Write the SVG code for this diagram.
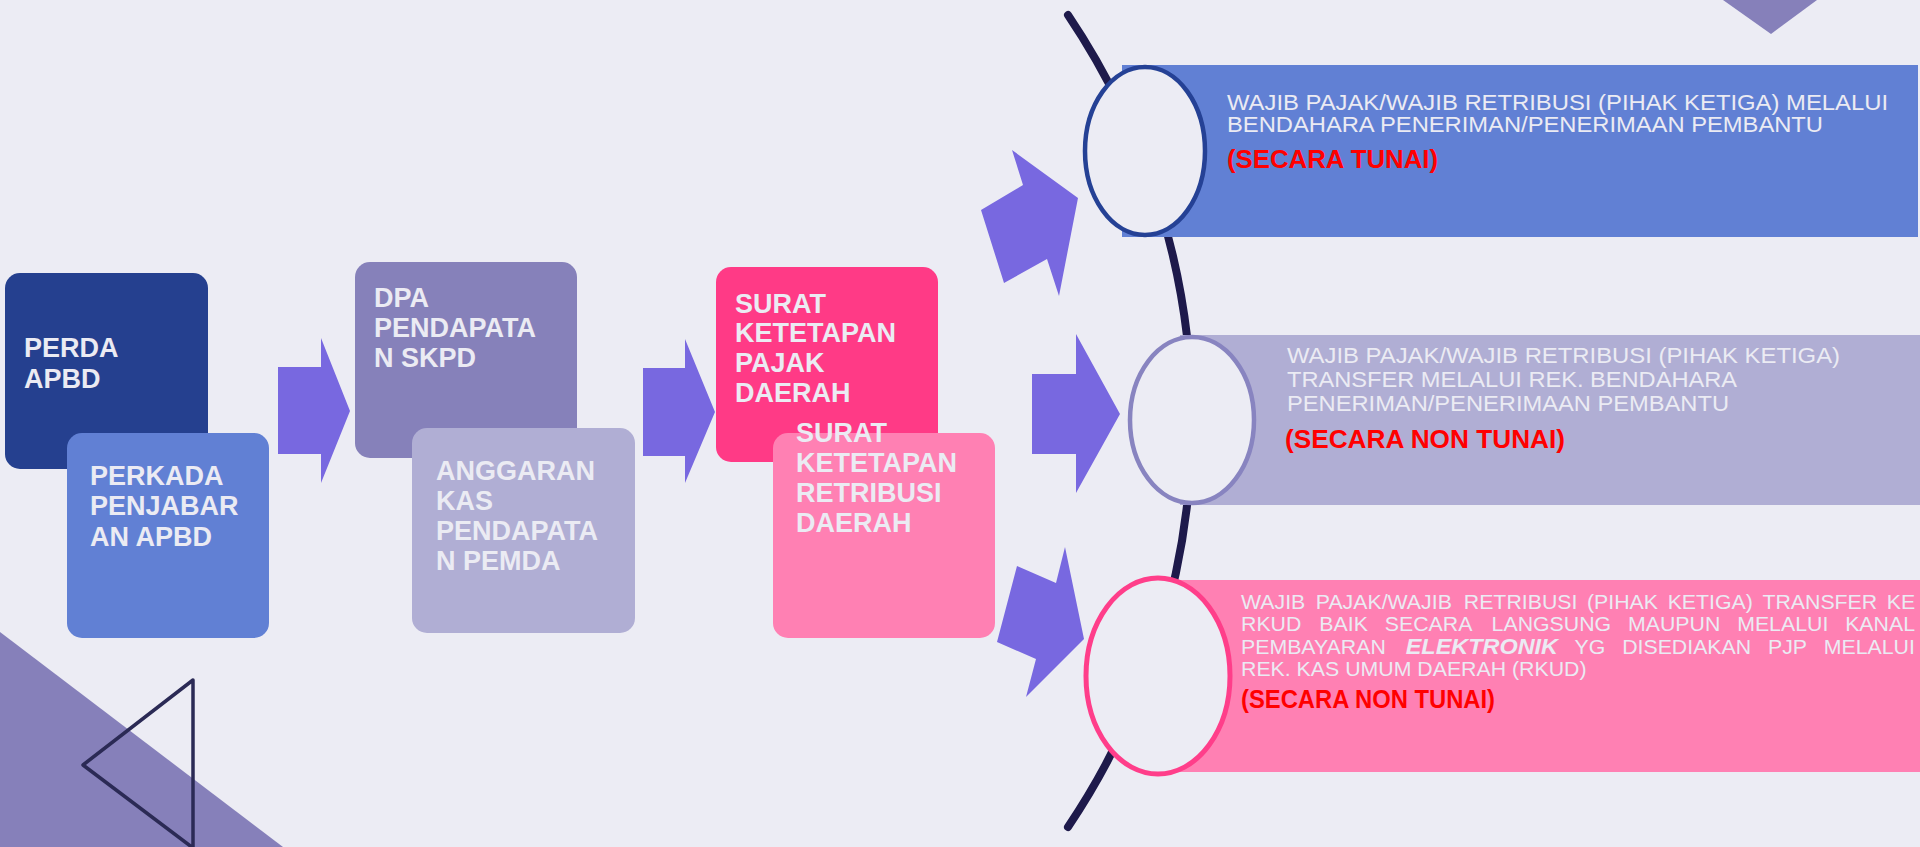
<svg xmlns="http://www.w3.org/2000/svg" width="1920" height="847" viewBox="0 0 1920 847">
  <style>
    .bg { fill: #ECECF4; }
    .deco { fill: #8680BA; }
    .box-text { font-family: "Liberation Sans", Arial, sans-serif; font-weight: bold; font-size: 27px; fill: #EBEBF3; }
    .band-text { font-family: "Liberation Sans", Arial, sans-serif; font-size: 22px; fill: #EBEBF3; }
    .band3-text { font-family: "Liberation Sans", Arial, sans-serif; font-size: 20px; fill: #EBEBF3; }
    .red { font-family: "Liberation Sans", Arial, sans-serif; font-weight: bold; font-size: 25px; fill: #FF0000; }
    .arrow { fill: #7868E0; }
    .ring { fill: #ECECF4; }
  </style>

  <!-- background and decorative corners -->
  <rect class="bg" x="0" y="0" width="1920" height="847"/>
  <polygon class="deco" points="0,632 283,847 0,847"/>
  <polygon points="193,680 83,765 193,848" fill="none" stroke="#2B2A55" stroke-width="3.5" stroke-linejoin="round"/>
  <polygon class="deco" points="1723,0 1817,0 1771,34"/>

  <!-- curved spine behind the three channels -->
  <g id="spine">
    <path d="M 1068 15 A 727 727 0 0 1 1068 827" fill="none" stroke="#1E1A4B" stroke-width="8" stroke-linecap="round"/>
  </g>

  <!-- step 1 -->
  <g id="perda-apbd">
    <rect x="5" y="273" width="203" height="196" rx="15" fill="#25408F"/>
    <text class="box-text"><tspan x="24" y="357">PERDA</tspan><tspan x="24" y="388">APBD</tspan></text>
  </g>
  <g id="perkada">
    <rect x="67" y="433" width="202" height="205" rx="15" fill="#6180D4"/>
    <text class="box-text"><tspan x="90" y="485">PERKADA</tspan><tspan x="90" y="515">PENJABAR</tspan><tspan x="90" y="546">AN APBD</tspan></text>
  </g>

  <!-- step 2 -->
  <g id="dpa">
    <rect x="355" y="262" width="222" height="196" rx="15" fill="#8681BA"/>
    <text class="box-text"><tspan x="374" y="307">DPA</tspan><tspan x="374" y="337">PENDAPATA</tspan><tspan x="374" y="367">N SKPD</tspan></text>
  </g>
  <g id="anggaran-kas">
    <rect x="412" y="428" width="223" height="205" rx="15" fill="#B0AED4"/>
    <text class="box-text"><tspan x="436" y="480">ANGGARAN</tspan><tspan x="436" y="510">KAS</tspan><tspan x="436" y="540">PENDAPATA</tspan><tspan x="436" y="570">N PEMDA</tspan></text>
  </g>

  <!-- step 3 -->
  <g id="skpd-pajak">
    <rect x="716" y="267" width="222" height="195" rx="15" fill="#FF3A86"/>
    <text class="box-text"><tspan x="735" y="313">SURAT</tspan><tspan x="735" y="342">KETETAPAN</tspan><tspan x="735" y="372">PAJAK</tspan><tspan x="735" y="402">DAERAH</tspan></text>
  </g>
  <g id="skrd-retribusi">
    <rect x="773" y="433" width="222" height="205" rx="15" fill="#FF80B3"/>
    <text class="box-text"><tspan x="796" y="442">SURAT</tspan><tspan x="796" y="472">KETETAPAN</tspan><tspan x="796" y="502">RETRIBUSI</tspan><tspan x="796" y="532">DAERAH</tspan></text>
  </g>

  <!-- flow arrows -->
  <g id="connectors">
    <polygon class="arrow" points="278,367 321,367 321,338 350,411 321,483 321,454 278,454"/>
    <polygon class="arrow" points="643,368 685,368 685,339 715,412 685,483 685,456 643,456"/>
    <polygon class="arrow" points="981,210 1023,185 1012,150 1078,198 1059,296 1047,259 1004,283"/>
    <polygon class="arrow" points="1032,374 1076,374 1076,334 1120,414 1076,493 1076,454 1032,454"/>
    <polygon class="arrow" points="1017,566 1056,583 1065,547 1084,639 1026,697 1036,659 997,642"/>
  </g>

  <!-- channel 1: cash -->
  <g id="channel-tunai">
    <rect x="1122" y="65" width="796" height="172" fill="#6180D4"/>
    <ellipse class="ring" cx="1145" cy="151" rx="60" ry="84" stroke="#254195" stroke-width="4.5"/>
    <text class="band-text" x="1227" y="110" textLength="661" lengthAdjust="spacingAndGlyphs">WAJIB PAJAK/WAJIB RETRIBUSI (PIHAK KETIGA) MELALUI</text>
    <text class="band-text" x="1227" y="132" textLength="596" lengthAdjust="spacingAndGlyphs">BENDAHARA PENERIMAN/PENERIMAAN PEMBANTU</text>
    <text class="red" x="1227" y="168" font-size="26" textLength="211" lengthAdjust="spacingAndGlyphs">(SECARA TUNAI)</text>
  </g>

  <!-- channel 2: transfer to treasurer account -->
  <g id="channel-transfer-bendahara">
    <rect x="1180" y="335" width="740" height="170" fill="#B0AED4"/>
    <ellipse class="ring" cx="1192" cy="420" rx="62" ry="83" stroke="#8884C0" stroke-width="4.5"/>
    <text class="band-text" x="1287" y="363" textLength="553" lengthAdjust="spacingAndGlyphs">WAJIB PAJAK/WAJIB RETRIBUSI (PIHAK KETIGA)</text>
    <text class="band-text" x="1287" y="387" textLength="450" lengthAdjust="spacingAndGlyphs">TRANSFER MELALUI REK. BENDAHARA</text>
    <text class="band-text" x="1287" y="411" textLength="442" lengthAdjust="spacingAndGlyphs">PENERIMAN/PENERIMAAN PEMBANTU</text>
    <text class="red" x="1285" y="448" textLength="280" lengthAdjust="spacingAndGlyphs">(SECARA NON TUNAI)</text>
  </g>

  <!-- channel 3: electronic transfer to RKUD (justified paragraph, slightly widened glyphs) -->
  <g id="channel-rkud">
    <rect x="1180" y="580" width="740" height="192" fill="#FF80B3"/>
    <ellipse class="ring" cx="1158" cy="676" rx="72" ry="98" stroke="#FF3E8A" stroke-width="5"/>
    <g transform="translate(1241 0) scale(1.065 1)">
      <text class="band3-text" y="609"><tspan x="0">WAJIB</tspan><tspan x="70.2">PAJAK/WAJIB</tspan><tspan x="209.2">RETRIBUSI</tspan><tspan x="324.9">(PIHAK</tspan><tspan x="400.6">KETIGA)</tspan><tspan x="489.6">TRANSFER</tspan><tspan x="606.4">KE</tspan></text>
      <text class="band3-text" y="631"><tspan x="0">RKUD</tspan><tspan x="73.6">BAIK</tspan><tspan x="135">SECARA</tspan><tspan x="235.3">LANGSUNG</tspan><tspan x="363.4">MAUPUN</tspan><tspan x="465.9">MELALUI</tspan><tspan x="567.3">KANAL</tspan></text>
      <text class="band3-text" y="654"><tspan x="0">PEMBAYARAN</tspan><tspan x="154.7" font-weight="bold" font-style="italic" font-size="22">ELEKTRONIK</tspan><tspan x="313.2">YG</tspan><tspan x="357.9">DISEDIAKAN</tspan><tspan x="494.8">PJP</tspan><tspan x="547.2">MELALUI</tspan></text>
      <text class="band3-text" x="0" y="676">REK. KAS UMUM DAERAH (RKUD)</text>
    </g>
    <text class="red" x="1241" y="708" font-size="24" textLength="254" lengthAdjust="spacingAndGlyphs">(SECARA NON TUNAI)</text>
  </g>
</svg>
